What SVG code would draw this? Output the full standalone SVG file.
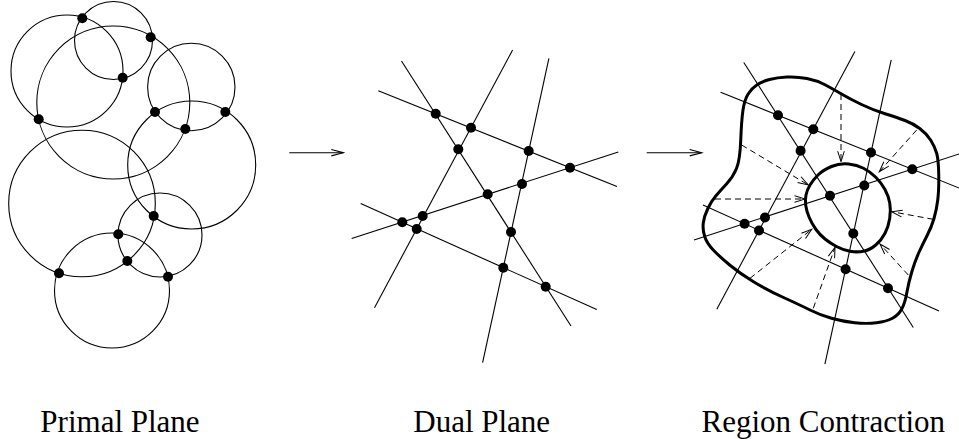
<svg xmlns="http://www.w3.org/2000/svg" width="959" height="439" viewBox="0 0 959 439">
<style>
.thin{fill:none;stroke:#000;stroke-width:1.1}
.thick{fill:none;stroke:#000;stroke-width:3}
.dash{fill:none;stroke:#000;stroke-width:1;stroke-dasharray:6,4}
.dot{fill:#000}
.lbl{font-family:"Liberation Serif","Times New Roman",serif;font-size:31px;fill:#000;text-anchor:middle}
</style>
<defs>
<marker id="ah" markerUnits="userSpaceOnUse" markerWidth="14" markerHeight="10" viewBox="-12 -5 14 10" refX="0" refY="0" orient="auto">
<path d="M-10.5,-3.3 L0,0 L-10.5,3.3" fill="none" stroke="#000" stroke-width="1" stroke-dasharray="none"/>
</marker>
<marker id="ah2" markerUnits="userSpaceOnUse" markerWidth="16" markerHeight="10" viewBox="-14 -5 16 10" refX="0" refY="0" orient="auto">
<path d="M-12,-3.2 L0,0 L-12,3.2" fill="none" stroke="#000" stroke-width="1.1"/>
</marker>
<g id="duallines">
<line x1="401.5" y1="61" x2="571" y2="326"/>
<line x1="378.3" y1="90.7" x2="617" y2="186.6"/>
<line x1="512.6" y1="50" x2="374.5" y2="307.7"/>
<line x1="548.9" y1="58.3" x2="482.6" y2="362.7"/>
<line x1="351.7" y1="238.5" x2="618.3" y2="152"/>
<line x1="360.7" y1="203.6" x2="596.7" y2="309.6"/>
</g>
<g id="dualdots">
<circle cx="435.7" cy="113.7" r="5"/>
<circle cx="471" cy="127.7" r="5"/>
<circle cx="458.3" cy="149.3" r="5"/>
<circle cx="528.7" cy="151" r="5"/>
<circle cx="570" cy="167.7" r="5"/>
<circle cx="522" cy="184" r="5"/>
<circle cx="487.7" cy="194.3" r="5"/>
<circle cx="402.3" cy="222.3" r="5"/>
<circle cx="422.7" cy="216" r="5"/>
<circle cx="416.7" cy="229" r="5"/>
<circle cx="511" cy="232" r="5"/>
<circle cx="503.3" cy="267.7" r="5"/>
<circle cx="545.7" cy="286.7" r="5"/>
</g>
</defs>

<g id="primal">
<g class="thin">
<circle cx="113.5" cy="40.5" r="39"/>
<circle cx="67" cy="71" r="56"/>
<circle cx="113.3" cy="102.5" r="76.5"/>
<circle cx="191.3" cy="87" r="43.7"/>
<circle cx="191.7" cy="165" r="64"/>
<circle cx="82" cy="203.5" r="73.3"/>
<circle cx="160" cy="235" r="42"/>
<circle cx="112" cy="290.5" r="57.5"/>
</g>
<g class="dot">
<circle cx="82.3" cy="18.3" r="5"/>
<circle cx="150.7" cy="37.3" r="5"/>
<circle cx="122.7" cy="77.7" r="5"/>
<circle cx="38.7" cy="119.3" r="5"/>
<circle cx="155" cy="112" r="5"/>
<circle cx="225.3" cy="112" r="5"/>
<circle cx="185.3" cy="129" r="5"/>
<circle cx="153.7" cy="216" r="5"/>
<circle cx="118.3" cy="234.3" r="5"/>
<circle cx="127.3" cy="261" r="5"/>
<circle cx="59" cy="273.3" r="5"/>
<circle cx="168" cy="276.7" r="5"/>
</g>
</g>

<g id="connectors">
<line class="thin" x1="289.3" y1="152.7" x2="343.3" y2="152.7" marker-end="url(#ah2)"/>
<line class="thin" x1="646.7" y1="152.7" x2="701.7" y2="152.7" marker-end="url(#ah2)"/>
</g>

<g id="dual">
<use href="#duallines" class="thin"/>
<use href="#dualdots" class="dot"/>
</g>

<g id="region">
<g transform="translate(342.3,1.5)">
<use href="#duallines" class="thin"/>
<use href="#dualdots" class="dot"/>
</g>
<path class="thick" d="M 743,110 Q 744.5,100 748,94.25 Q 751.5,88.5 756.75,85 Q 762,81.5 769.5,79.5 Q 777,77.5 787,77 Q 797,76.5 807,78.5 Q 817,80.5 825,84.75 Q 833,89 841.5,94 Q 850,99 861.5,104.5 Q 873,110 885,113.75 Q 897,117.5 905,120.5 Q 913,123.5 919.75,128.5 Q 926.5,133.5 930.75,140.25 Q 935,147 936.75,153.5 Q 938.5,160 938.75,175 Q 939,190 937.75,200 Q 936.5,210 934,218.5 Q 931.5,227 927.25,235.25 Q 923,243.5 919,252.25 Q 915,261 911.75,272 Q 908.5,283 906.75,293 Q 905,303 901.75,309 Q 898.5,315 892.5,318.25 Q 886.5,321.5 876.5,322.75 Q 866.5,324 854.75,322.75 Q 843,321.5 831.5,318.25 Q 820,315 810,310 Q 800,305 783.5,297.5 Q 767,290 753.5,281.75 Q 740,273.5 730,265.25 Q 720,257 713.5,250.25 Q 707,243.5 704.75,236.75 Q 702.5,230 703.25,223.25 Q 704,216.5 707.75,208.75 Q 711.5,201 715.75,196 Q 720,191 726.5,184 Q 733,177 736.5,168.5 Q 740,160 740.75,140 Q 741.5,120 743,110 Z"/>
<path class="thick" d="M 806,195 Q 807,190 810,185 Q 813,180 818,175 Q 823,170 831.5,166.5 Q 840,163 848.5,164 Q 857,165 863.5,168.25 Q 870,171.5 875.75,177.25 Q 881.5,183 885,189.5 Q 888.5,196 889.75,203 Q 891,210 889.75,218.25 Q 888.5,226.5 885,233.25 Q 881.5,240 875.75,245 Q 870,250 863.5,251.25 Q 857,252.5 850,251.25 Q 843,250 836.5,246.5 Q 830,243 825,239 Q 820,235 816,229.5 Q 812,224 809.25,217.5 Q 806.5,211 805.75,205.5 Q 805,200 806,195 Z"/>
<g class="dash">
<line x1="841" y1="94" x2="841" y2="161.7" marker-end="url(#ah)"/>
<line x1="916.7" y1="130" x2="879.3" y2="171.7" marker-end="url(#ah)"/>
<line x1="741.7" y1="145" x2="808.3" y2="185" marker-end="url(#ah)"/>
<line x1="715" y1="199" x2="805" y2="199" marker-end="url(#ah)"/>
<line x1="933.3" y1="219.3" x2="891.7" y2="211.7" marker-end="url(#ah)"/>
<line x1="750" y1="278.3" x2="811.7" y2="229.3" marker-end="url(#ah)"/>
<line x1="813.3" y1="308.3" x2="835" y2="247.3" marker-end="url(#ah)"/>
<line x1="908.3" y1="275" x2="880" y2="244" marker-end="url(#ah)"/>
</g>
</g>

<g id="labels">
<text class="lbl" x="120" y="432">Primal Plane</text>
<text class="lbl" x="481.7" y="432">Dual Plane</text>
<text class="lbl" x="823.3" y="432">Region Contraction</text>
</g>
</svg>
